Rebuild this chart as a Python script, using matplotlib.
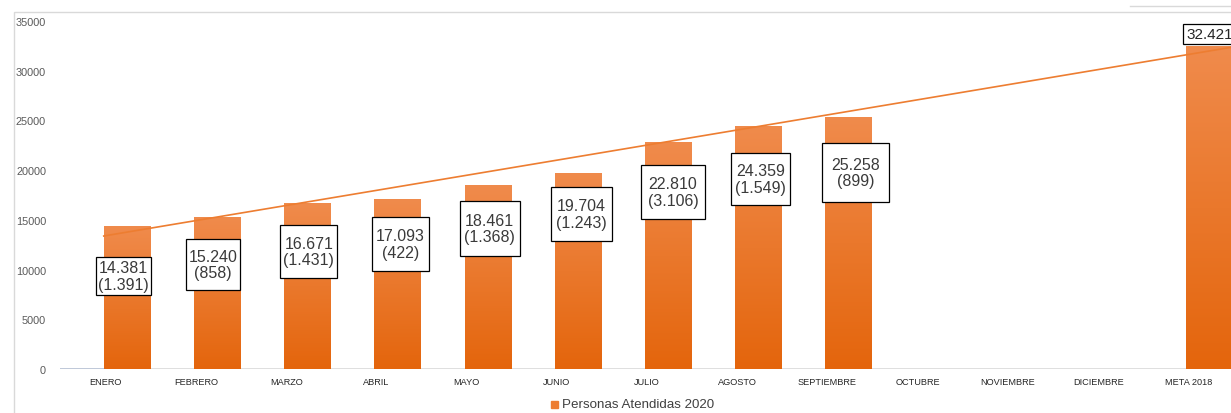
import numpy as np
import matplotlib
matplotlib.use("Agg")
import matplotlib.pyplot as plt
import matplotlib.transforms as mtransforms
from matplotlib.colors import LinearSegmentedColormap
from matplotlib.patches import Rectangle

# ---- data ----
categories = ["ENERO", "FEBRERO", "MARZO", "ABRIL", "MAYO", "JUNIO", "JULIO",
              "AGOSTO", "SEPTIEMBRE", "OCTUBRE", "NOVIEMBRE", "DICIEMBRE", "META 2018"]
values = [14381, 15240, 16671, 17093, 18461, 19704, 22810, 24359, 25258,
          None, None, None, 32421]
monthly_new = [1391, 858, 1431, 422, 1368, 1243, 3106, 1549, 899,
               None, None, None, None]
trend_start = 13376   # trend line value at left edge of first bar
trend_end = 32350     # trend line value at right edge of plot
series_name = "Personas Atendidas 2020"
yticks = [0, 5000, 10000, 15000, 20000, 25000, 30000, 35000]


def fmt(v):
    return f"{v:,}".replace(",", ".")


# ---- layout (label boxes: x shift, centre y, width, height) ----
label_boxes = [(-0.04, 9353, 0.61, 3822), (-0.044, 10510, 0.60, 5129),
               (0.017, 11817, 0.63, 5330), (0.033, 12571, 0.64, 5431),
               (0.022, 14130, 0.665, 5531), (0.039, 15588, 0.676, 5431),
               (0.055, 17801, 0.71, 5431), (0.028, 19108, 0.654, 5230),
               (0.083, 19762, 0.743, 5934)]

W, H = 1231, 414
fig = plt.figure(figsize=(W / 100, H / 100), dpi=100)
plt.rcParams["font.family"] = ["Liberation Sans", "DejaVu Sans"]

# chart frame
fig.patches.append(Rectangle((14 / W, -0.1), 2, 1 - 13 / H + 0.1,
                             transform=fig.transFigure, fill=False,
                             edgecolor="#d9d9d9", linewidth=1))
fig.lines.append(plt.Line2D([1130 / W, 1.0], [1 - 7 / H, 1 - 7 / H],
                            transform=fig.transFigure, color="#d9d9d9", lw=1))

ax = fig.add_axes([60 / W, 1 - 370 / H, 1 - 60 / W, (370 - 22) / H])

cmap = LinearSegmentedColormap.from_list("og", ["#e4650c", "#f08b4c"])
grad = np.linspace(0, 1, 256).reshape(-1, 1)
bw = 0.51
x = np.arange(len(categories))
for xi, v in zip(x, values):
    if v is None:
        continue
    ax.imshow(grad, cmap=cmap, origin="lower", aspect="auto",
              extent=[xi - bw / 2, xi + bw / 2, 0, v], zorder=2)
ax.set_xlim(-0.74, 12.24)
ax.set_ylim(0, 35000)

# zero line + short blue series segment
ax.axhline(0, color="#d9d9d9", lw=1.2, zorder=1)
ax.plot([-0.74, -bw / 2], [0, 0], color="#4472c4", lw=1, zorder=3)

# trend line
ax.plot([-bw / 2, 12.24], [trend_start, trend_end], color="#ed7d31",
        lw=1.2, zorder=4)

# data labels (fixed-size boxes)
for xi, v, m, box in zip(x, values, monthly_new, label_boxes):
    dx, cy, w, h = box
    ax.add_patch(Rectangle((xi + dx - w / 2, cy - h / 2), w, h,
                           facecolor="white", edgecolor="black",
                           linewidth=0.9, zorder=5))
    ax.text(xi + dx, cy, f"{fmt(v)}\n({fmt(m)})", ha="center", va="center",
            fontsize=11.5, color="#3a3a3a", linespacing=1.15, zorder=6)

ax.text(12, values[12] + 1270, fmt(values[12]), ha="center", va="center",
        fontsize=11, color="#262626", zorder=6, clip_on=False,
        bbox=dict(boxstyle="square,pad=0.2", facecolor="white",
                  edgecolor="black", linewidth=0.9))

# axes styling
for s in ax.spines.values():
    s.set_visible(False)
ax.set_yticks(yticks)
ax.set_yticklabels([str(t) for t in yticks], fontsize=7.8, color="#595959")
ax.tick_params(axis="y", length=0, pad=10)
ax.set_xticks(x)
ax.set_xticklabels(categories, fontsize=6.6, color="#262626")
ax.tick_params(axis="x", length=0, pad=6)
shift = mtransforms.ScaledTranslation(-21 / 100, 0, fig.dpi_scale_trans)
for lbl in ax.get_xticklabels():
    lbl.set_transform(lbl.get_transform() + shift)
ax.patch.set_alpha(0)

# legend
fig.patches.append(Rectangle((551 / W, 1 - 409 / H), 7 / W, 7 / H,
                             transform=fig.transFigure, color="#ed7d31"))
fig.text(562 / W, 1 - 405 / H, series_name, fontsize=9.6, color="#404040",
         va="center", ha="left")

fig.savefig("out.png", dpi=100)
